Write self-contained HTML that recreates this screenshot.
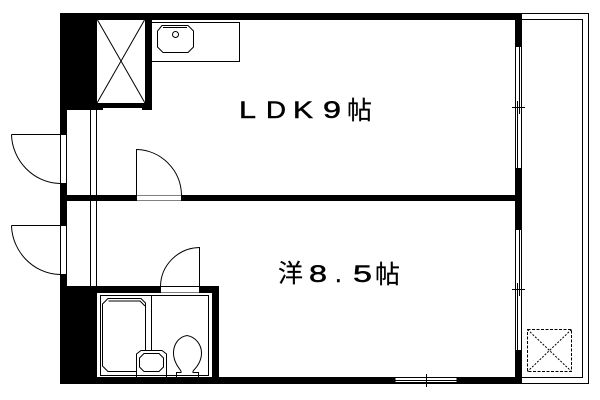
<!DOCTYPE html>
<html><head><meta charset="utf-8"><style>
html,body{margin:0;padding:0;background:#fff;width:600px;height:400px;overflow:hidden}
svg{display:block}
.t{font-family:"Liberation Sans",sans-serif;font-size:24px;fill:#000;stroke:#000;stroke-width:.5px}
.c{font-family:"Liberation Sans","WenQuanYi Zen Hei","Noto Sans CJK JP",sans-serif;font-size:25px;fill:#000;stroke:#000;stroke-width:.2px}
</style></head><body>
<svg width="600" height="400" viewBox="0 0 600 400" xmlns="http://www.w3.org/2000/svg">
<g fill="#000" shape-rendering="crispEdges">
<rect x="60" y="13" width="462" height="7"/>
<rect x="60" y="13" width="37" height="97"/>
<rect x="145" y="13" width="7" height="97"/>
<rect x="97" y="103" width="48" height="5"/>
<rect x="60" y="108" width="43" height="2"/>
<rect x="142" y="108" width="10" height="2"/>
<rect x="60" y="110" width="7" height="274"/>
<rect x="60" y="195" width="462" height="6"/>
<rect x="515" y="13" width="7" height="371"/>
<rect x="60" y="377" width="462" height="7"/>
<rect x="60" y="286" width="37" height="98"/>
<rect x="60" y="286" width="159" height="7"/>
<rect x="212" y="286" width="7" height="98"/>
</g>
<g fill="#fff" stroke="#000" stroke-width="1" shape-rendering="crispEdges">
<rect x="60.5" y="134.5" width="6" height="49"/>
<rect x="60.5" y="225.5" width="6" height="49"/>
<rect x="137" y="195.5" width="44" height="5" stroke="none"/>
<rect x="161" y="287" width="38" height="5.5" stroke="none"/>
<rect x="515.5" y="46.5" width="6" height="122"/>
<rect x="515.5" y="229.5" width="6" height="121"/>
<rect x="395" y="377.5" width="62" height="5"/>
</g>
<g fill="none" stroke="#000" stroke-width="1">
<g shape-rendering="crispEdges">
<path d="M90.5 110V195M96.5 110V195M90.5 201V286M96.5 201V286"/>
<path d="M519.500 46V107M517.500 107V168M519.500 229V289M517.500 289V350"/>
<path d="M512 107.500H525M517.500 101V113M519.500 103V114"/>
<path d="M512 289.500H525M517.500 283V295M519.500 285V296"/>
<path d="M395 380.500H457M426.500 374V387"/>
<path d="M521 13.500H588.500V383.500H521M522 19.500H582.500V377.500H522"/>
<path d="M152 22.500H239.500V61.500H152M152 19.500H239.500"/>
<path d="M11.500 134.500H60M11.500 225.500H60M136.500 149V195M199.500 247V286"/>
<path d="M97.500 293.500H212" stroke="none"/>
<path d="M100.500 295.500H208.500V375.500H100.500ZM151.500 295V350"/>
</g>
<path d="M11.500 134.500C12 160 33 183 60 183.500"/>
<path d="M11.500 225.500C12 251 33 274 60 274.500"/>
<path d="M136.500 149.500C161 150 181 170 181.500 195"/>
<path d="M199.500 247.500C178 248 161 265 160.500 286"/>
<path d="M97.500 20L145 103M144.500 20L97 103"/>
<path d="M162 25.500H188L193.500 31V47L188 52.500H163L157.500 47V31Z"/>
<path d="M163 27.500H187"/>
<circle cx="175.500" cy="34.500" r="3"/>
<path d="M136.500 371.500H108L102.500 366V304L108 298.500H141L145.500 303V350"/>
<path d="M108.500 301H140L145 306"/>
<path d="M136.500 377V354L141 350.500H162L166.500 354V377"/>
<path d="M144 353.500H159L163.500 358V367L159 371.500H144L139.500 367V358Z"/>
<path d="M187 335.500C178 337 173.500 345 173.500 353C173.500 361 178 367 181 371M187 335.500C196 337 201.500 345 201.500 353C201.500 361 197 367 193 371"/>
<path d="M176.500 377V372.500H181V371M198.500 377V372.500H193V371"/>
<path d="M527.500 329.500H571.500V371.500H527.500Z" stroke-dasharray="3 1.500"/>
<path d="M527.500 329.500L571.500 371.500M571.500 329.500L527.500 371.500" stroke-dasharray="2 1.500"/>
</g>
<text class="t" x="239" y="118" textLength="17" lengthAdjust="spacingAndGlyphs">L</text>
<text class="t" x="266" y="118" textLength="20" lengthAdjust="spacingAndGlyphs">D</text>
<text class="t" x="293" y="118" textLength="20" lengthAdjust="spacingAndGlyphs">K</text>
<text class="t" x="323" y="118" textLength="18" lengthAdjust="spacingAndGlyphs">9</text>
<text class="c" x="347" y="119">帖</text>
<text class="c" x="278" y="282">洋</text>
<text class="t" x="309" y="282" textLength="18" lengthAdjust="spacingAndGlyphs">8</text>
<text class="t" x="335" y="282">.</text>
<text class="t" x="353" y="282" textLength="19" lengthAdjust="spacingAndGlyphs">5</text>
<text class="c" x="375" y="283">帖</text>
</svg>
</body></html>
